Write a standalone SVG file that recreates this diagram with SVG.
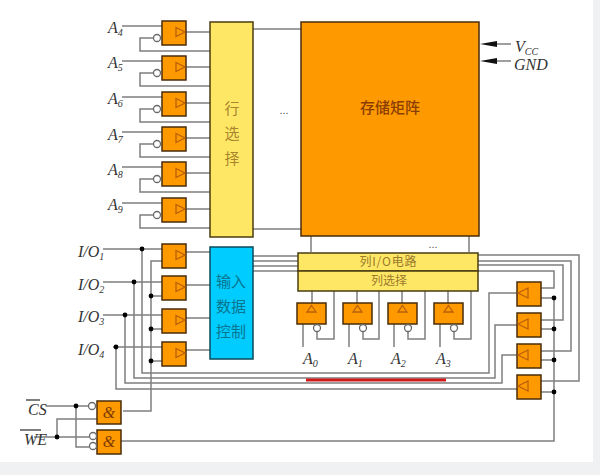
<svg xmlns="http://www.w3.org/2000/svg" width="600" height="475" viewBox="0 0 600 475">
<style>
.w{fill:none;stroke:#7f7f7f;stroke-width:1.5}
.b{fill:#ff9900;stroke:#4a2c08;stroke-width:1.5}
.t{fill:none;stroke:#b8600a;stroke-width:1.3}
.c{fill:#fff;stroke:#6a6a6a;stroke-width:1.3}
.d{fill:#000}
.y{fill:#ffe766;stroke:#4a3c10;stroke-width:1.5}
.l{font-family:"Liberation Serif",serif;font-style:italic;font-size:16px;fill:#333}
.s{font-size:10px}
.z{font-family:"Noto Sans CJK SC","Liberation Serif",serif;font-size:15px;text-anchor:middle}
.o{stroke:#555;stroke-width:1.3}
</style>
<defs>
<marker id="ah" markerWidth="17" markerHeight="6" refX="0" refY="3" orient="auto" markerUnits="userSpaceOnUse"><path d="M0 0L17 3L0 6Z" fill="#111"/></marker>
<g id="rb"><rect class="b" x="162" y="0" width="24" height="24"/><path class="t" d="M176 6.500L185 11L176 15.500Z"/></g>
<g id="lb"><rect class="b" x="517" y="0" width="24" height="24"/><path class="t" d="M518 11L528 6L528 16Z"/></g>
<g id="ub"><rect class="b" x="0" y="0" width="29" height="21"/><path class="t" d="M14.500 2.500L19 9L10 9Z"/></g>
</defs>
<rect x="593" y="0" width="7" height="475" fill="#eff1f3"/>
<rect x="0" y="462" width="600" height="13" fill="#eff1f3"/>

<g id="connectors">
<path class="w" d="M122 26H162M186 32H210M153 38H140V51H210"/>
<path class="w" d="M122 61H162M186 67H210M153 73H140V86H210"/>
<path class="w" d="M122 97H162M186 103H210M153 109H140V122H210"/>
<path class="w" d="M122 132H162M186 138H210M153 144H140V157H210"/>
<path class="w" d="M122 167H162M186 173H210M153 179H140V192H210"/>
<path class="w" d="M122 203H162M186 209H210M153 215H140V228H210"/>
<path class="w" d="M253 29H301M253 229H301M311 236V252M469 236V252"/>
<path class="w" d="M253 256H298M253 261H298M253 266H298M253 271H298"/>
<path class="w" d="M103 249H162M103 282H162M103 315H162M113 347H162"/>
<path class="w" d="M186 252H210M186 285H210M186 318H210M186 350H210"/>
<path class="w" d="M142 249V373H489V293H518"/>
<path class="w" d="M134 282V378H495V325H518"/>
<path class="w" d="M125 315V383H502V355H518"/>
<path class="w" d="M116 347V389H518"/>
<path class="w" d="M162 261H151V411H123M151 296H162M151 329H162M151 361H162"/>
<path class="w" d="M46 406H89M76 406V447H89M34 437H89M57 437V419H97"/>
<path class="w" d="M121 441H554V298H541M541 329H554M541 360H554M541 392H554"/>
<path class="w" d="M541 288H554V271H478M541 320H563V265H478M541 351H571V261H478M541 381H579V255H478"/>
<path class="w" d="M312 291V303M303 324V347M317 331V339H334V291"/>
<path class="w" d="M357 291V303M349 324V347M363 331V339H379V291"/>
<path class="w" d="M402 291V303M394 324V347M408 331V339H425V291"/>
<path class="w" d="M448 291V303M440 324V347M454 331V339H471V291"/>
<path class="w" d="M511 44H497" marker-end="url(#ah)"/>
<path class="w" d="M511 61H497" marker-end="url(#ah)"/>
<g class="d">
<circle cx="142" cy="249" r="2.400"/><circle cx="134" cy="282" r="2.400"/><circle cx="125" cy="315" r="2.400"/><circle cx="116" cy="347" r="2.400"/>
<circle cx="151" cy="296" r="2.400"/><circle cx="151" cy="329" r="2.400"/><circle cx="151" cy="361" r="2.400"/>
<circle cx="76" cy="406" r="2.400"/><circle cx="57" cy="437" r="2.400"/>
<circle cx="554" cy="298" r="2.400"/><circle cx="554" cy="329" r="2.400"/><circle cx="554" cy="360" r="2.400"/><circle cx="554" cy="392" r="2.400"/>
</g>
</g>

<g id="red-line"><rect x="306" y="378.500" width="140" height="3" fill="#d01818"/></g>

<g id="row-select"><rect class="y" x="210" y="22" width="43" height="215"/>
<text class="z" fill="#a8842c" x="232" y="114">行</text><text class="z" fill="#a8842c" x="232" y="139">选</text><text class="z" fill="#a8842c" x="232" y="164">择</text></g>
<g id="memory-array"><rect class="b" x="301" y="22" width="178" height="214"/>
<text class="z" fill="#8a3e00" x="390" y="113" font-weight="500">存储矩阵</text></g>
<g id="input-control"><rect x="210" y="247" width="43" height="112" fill="#00ccff" stroke="#0a4a5a" stroke-width="1.500"/>
<text class="z" fill="#0a7590" x="231" y="287">输入</text><text class="z" fill="#0a7590" x="231" y="312">数据</text><text class="z" fill="#0a7590" x="231" y="337">控制</text></g>
<g id="col-io"><rect class="y" x="298" y="253" width="180" height="18"/>
<text class="z" fill="#9a7a2c" x="388" y="266" style="font-size:12px" textLength="57">列I/O电路</text></g>
<g id="col-select"><rect class="y" x="298" y="271" width="180" height="20"/>
<text class="z" fill="#9a7a2c" x="389" y="285" style="font-size:12px">列选择</text></g>
<text x="284" y="114" font-family="Liberation Sans,sans-serif" font-size="11" fill="#555" text-anchor="middle">...</text>
<text x="433" y="248" font-family="Liberation Sans,sans-serif" font-size="11" fill="#555" text-anchor="middle">...</text>

<g id="buf-a4"><use href="#rb" y="21"/><circle class="c" cx="157" cy="38" r="3.500"/></g>
<g id="buf-a5"><use href="#rb" y="56"/><circle class="c" cx="157" cy="73" r="3.500"/></g>
<g id="buf-a6"><use href="#rb" y="92"/><circle class="c" cx="157" cy="109" r="3.500"/></g>
<g id="buf-a7"><use href="#rb" y="127"/><circle class="c" cx="157" cy="144" r="3.500"/></g>
<g id="buf-a8"><use href="#rb" y="162"/><circle class="c" cx="157" cy="179" r="3.500"/></g>
<g id="buf-a9"><use href="#rb" y="198"/><circle class="c" cx="157" cy="215" r="3.500"/></g>
<g id="buf-io1"><use href="#rb" y="244"/></g>
<g id="buf-io2"><use href="#rb" y="276"/></g>
<g id="buf-io3"><use href="#rb" y="309"/></g>
<g id="buf-io4"><use href="#rb" y="342"/></g>
<g id="buf-out1"><use href="#lb" y="282"/></g>
<g id="buf-out2"><use href="#lb" y="313"/></g>
<g id="buf-out3"><use href="#lb" y="344"/></g>
<g id="buf-out4"><use href="#lb" y="375"/></g>
<g id="buf-a0"><use href="#ub" x="297" y="303"/><circle class="c" cx="317" cy="328" r="3.500"/></g>
<g id="buf-a1"><use href="#ub" x="343" y="303"/><circle class="c" cx="363" cy="328" r="3.500"/></g>
<g id="buf-a2"><use href="#ub" x="388" y="303"/><circle class="c" cx="408" cy="328" r="3.500"/></g>
<g id="buf-a3"><use href="#ub" x="434" y="303"/><circle class="c" cx="454" cy="328" r="3.500"/></g>
<g id="and-1"><rect class="b" x="97" y="401" width="24" height="23"/><circle class="c" cx="92" cy="406" r="3.500"/>
<text x="109" y="418" font-family="Liberation Serif,serif" font-style="italic" font-size="16" fill="#7a3a00" text-anchor="middle">&amp;</text></g>
<g id="and-2"><rect class="b" x="97" y="430" width="24" height="24"/><circle class="c" cx="93" cy="436" r="3.500"/><circle class="c" cx="93" cy="446" r="3.500"/>
<text x="109" y="447" font-family="Liberation Serif,serif" font-style="italic" font-size="16" fill="#7a3a00" text-anchor="middle">&amp;</text></g>

<g id="labels">
<text class="l" x="108" y="33">A<tspan class="s" dy="3">4</tspan></text>
<text class="l" x="108" y="68">A<tspan class="s" dy="3">5</tspan></text>
<text class="l" x="108" y="104">A<tspan class="s" dy="3">6</tspan></text>
<text class="l" x="108" y="140">A<tspan class="s" dy="3">7</tspan></text>
<text class="l" x="108" y="175">A<tspan class="s" dy="3">8</tspan></text>
<text class="l" x="108" y="210">A<tspan class="s" dy="3">9</tspan></text>
<text class="l" x="78" y="257">I/O<tspan class="s" dy="3">1</tspan></text>
<text class="l" x="78" y="290">I/O<tspan class="s" dy="3">2</tspan></text>
<text class="l" x="78" y="322">I/O<tspan class="s" dy="3">3</tspan></text>
<text class="l" x="78" y="355">I/O<tspan class="s" dy="3">4</tspan></text>
<text class="l" x="303" y="364">A<tspan class="s" dy="3">0</tspan></text>
<text class="l" x="348" y="364">A<tspan class="s" dy="3">1</tspan></text>
<text class="l" x="391" y="364">A<tspan class="s" dy="3">2</tspan></text>
<text class="l" x="436" y="364">A<tspan class="s" dy="3">3</tspan></text>
<text class="l" x="515" y="52">V<tspan class="s" dy="3">CC</tspan></text>
<text class="l" x="514" y="70">GND</text>
<text class="l" x="28" y="415">CS</text>
<text class="l" x="24" y="445">WE</text>
<path class="o" d="M26 400H40M20 430H41"/>
</g>
</svg>
